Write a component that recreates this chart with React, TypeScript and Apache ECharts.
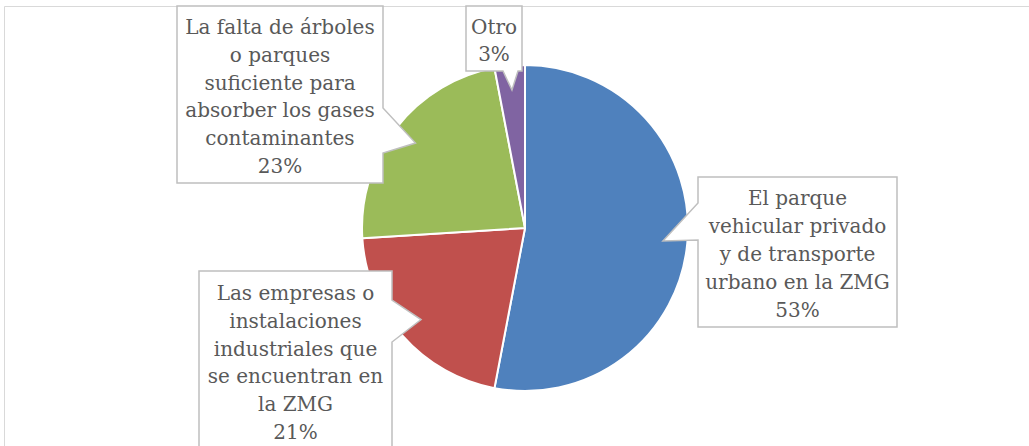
import React, { useEffect, useRef } from "react";
import * as echarts from "echarts";

// ---- data ----
const categories = [
  "El parque vehicular privado y de transporte urbano en la ZMG",
  "Las empresas o instalaciones industriales que se encuentran en la ZMG",
  "La falta de árboles o parques suficiente para absorber los gases contaminantes",
  "Otro",
];
const values = [53, 21, 23, 3];
const labelLines = [
  ["El parque", "vehicular privado", "y de transporte", "urbano en la ZMG"],
  ["Las empresas o", "instalaciones", "industriales que", "se encuentran en", "la ZMG"],
  ["La falta de árboles", "o parques", "suficiente para", "absorber los gases", "contaminantes"],
  ["Otro"],
];
const colors = ["#4F81BD", "#C0504D", "#9BBB59", "#8064A2"];

// ---- layout ----
const CENTER: [number, number] = [525, 228];
const RADIUS = 163;
// box: [x1, y1, x2, y2], side of pointer, base start/end along that side
const callouts = [
  { box: [698, 177, 897, 327], side: "left", base: [203, 240] },
  { box: [199, 271, 392, 470], side: "right", base: [300, 342] },
  { box: [177, 6, 383, 183], side: "right", base: [108, 153] },
  { box: [466, 6, 522, 71], side: "bottom", base: [503, 518] },
];
const TIP_FACTOR = 0.85;
const FONT = "20px 'DejaVu Serif'";
const LINE_H = 27.8;

function calloutPoints(c: any, tip: [number, number]) {
  const [x1, y1, x2, y2] = c.box;
  const [b1, b2] = c.base;
  if (c.side === "right")
    return [[x1, y1], [x2, y1], [x2, b1], tip, [x2, b2], [x2, y2], [x1, y2]];
  if (c.side === "left")
    return [[x1, y1], [x2, y1], [x2, y2], [x1, y2], [x1, b2], tip, [x1, b1]];
  return [[x1, y1], [x2, y1], [x2, y2], [b2, y2], tip, [b1, y2], [x1, y2]];
}

export default function App() {
  const ref = useRef<HTMLDivElement>(null);
  useEffect(() => {
    if (!ref.current) return;
    const chart = echarts.init(ref.current, null, { renderer: "svg" });
    const total = values.reduce((a, b) => a + b, 0);
    let acc = 0;
    const graphics: any[] = [
      {
        type: "rect",
        shape: { x: 4.5, y: 6.5, width: 1100, height: 500 },
        style: { fill: "none", stroke: "#d9d9d9", lineWidth: 1 },
        silent: true,
        z: 1,
      },
    ];
    values.forEach((v, i) => {
      const mid = ((acc + v / 2) / total) * Math.PI * 2;
      acc += v;
      const tip: [number, number] = [
        CENTER[0] + Math.sin(mid) * RADIUS * TIP_FACTOR,
        CENTER[1] - Math.cos(mid) * RADIUS * TIP_FACTOR,
      ];
      const c = callouts[i];
      const [x1, y1, x2, y2] = c.box;
      const pct = Math.round((v / total) * 100) + "%";
      const lines = [...labelLines[i], pct];
      graphics.push({
        type: "polygon",
        shape: { points: calloutPoints(c, tip) },
        style: { fill: "#ffffff", stroke: "#bfbfbf", lineWidth: 1.5 },
        z: 100,
        silent: true,
      });
      graphics.push({
        type: "text",
        x: (x1 + x2) / 2,
        y: Math.min((y1 + y2) / 2, y1 + 6 + (lines.length * LINE_H) / 2) + 2,
        style: {
          text: lines.join("\n"),
          font: FONT,
          fill: "#595959",
          align: "center",
          verticalAlign: "middle",
          lineHeight: LINE_H,
        },
        z: 101,
        silent: true,
      });
    });
    chart.setOption({
      animation: false,
      backgroundColor: "#ffffff",
      series: [
        {
          type: "pie",
          center: CENTER,
          radius: RADIUS,
          startAngle: 90,
          clockwise: true,
          silent: true,
          label: { show: false },
          labelLine: { show: false },
          itemStyle: { borderColor: "#ffffff", borderWidth: 2 },
          data: categories.map((name, i) => ({
            name,
            value: values[i],
            itemStyle: { color: colors[i] },
          })),
        },
      ],
      graphic: graphics,
    });
    return () => chart.dispose();
  }, []);
  return (
    <div
      ref={ref}
      style={{ position: "fixed", left: 0, top: 0, width: 1029, height: 446 }}
    />
  );
}
